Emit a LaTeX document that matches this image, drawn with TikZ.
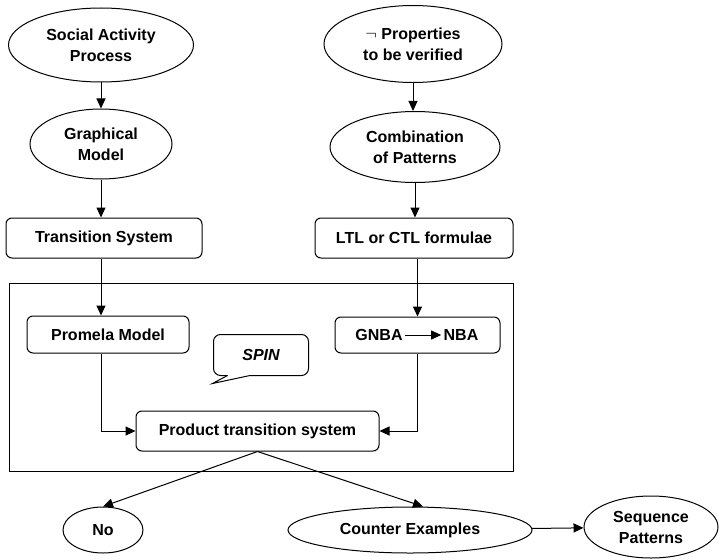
\documentclass[tikz,border=0pt]{standalone}
\usepackage{fontspec}
\setmainfont{Liberation Sans}
\usetikzlibrary{calc, positioning, arrows.meta, shapes.geometric}

\begin{document}
\begin{tikzpicture}[x=1pt, y=-1pt, line width=1pt,
    >={Triangle[length=10pt,width=9pt]},
    every node/.style={font=\bfseries\fontsize{16}{21}\selectfont, align=center},
    oval/.style={ellipse, draw, inner sep=0pt},
    box/.style={rectangle, draw, rounded corners=6pt, inner sep=0pt}]
    \useasboundingbox (0,0) rectangle (719,559);

    % Left column: model side
    \node[oval, minimum width=185pt, minimum height=74pt] (social) at (101,45) {Social Activity\\Process};
    \node[oval, minimum width=142pt, minimum height=70pt] (graph) at (101,144) {Graphical\\Model};
    \node[box, minimum width=196pt, minimum height=40pt] (ts) at (104,238) {Transition System};

    % Right column: property side
    \node[oval, minimum width=178pt, minimum height=77pt] (props) at (413,44) {{\mdseries$\neg$} Properties\\to be verified};
    \node[oval, minimum width=170pt, minimum height=71pt] (comb) at (415,147) {Combination\\of Patterns};
    \node[box, minimum width=198pt, minimum height=40pt] (ltl) at (414,238) {LTL or CTL formulae};

    % SPIN frame
    \draw (9,283) rectangle (513,471);
    \node[box, minimum width=162pt, minimum height=37pt] (promela) at (108,334.5) {Promela Model};
    \node[box, minimum width=165pt, minimum height=36pt] (gnba) at (417.5,335) {};
    \node[inner sep=2pt] (gn) at (379,335) {GNBA};
    \node[inner sep=2pt] (nb) at (461,335) {NBA};
    \node[box, minimum width=243pt, minimum height=40pt] (product) at (257.5,431) {Product transition system};

    % Speech bubble
    \node[font=\bfseries\itshape\fontsize{16}{21}\selectfont, minimum width=94pt, minimum height=40pt, inner sep=0pt] (spin) at (261,355) {SPIN};
    \draw[rounded corners=7pt] ($(spin.south)+(-11,0)$) -- (spin.south east) -- (spin.north east)
        -- (spin.north west) -- (spin.south west) -- ($(spin.south west)+(14,0)$);
    \draw ($(spin.south west)+(14,0)$) -- ($(spin.south west)+(-1,8)$) -- ($(spin.south)+(-11,0)$);

    % Results
    \node[oval, minimum width=80pt, minimum height=46pt] (no) at (103,530) {No};
    \node[oval, minimum width=244pt, minimum height=46pt] (counter) at (410,530) {Counter Examples};
    \node[oval, minimum width=134pt, minimum height=62pt] (seq) at (651,527) {Sequence\\Patterns};

    % Connectors
    \draw[->] (social) -- (graph);
    \draw[->] (graph) -- (graph |- ts.north);
    \draw[->] (ts.south -| graph) -- (graph |- promela.north);
    \draw[->] (props.south) -- (props.south |- comb.north);
    \draw[->] (comb) -- (comb |- ltl.north);
    \draw[->] (ltl.south -| gnba) -- (gnba);
    \draw[->] (gn) -- (nb);
    \draw[->] (promela.south -| graph) |- (product.west);
    \draw[->] (gnba) |- (product.east);
    \draw[->] (product.south) -- (no.north);
    \draw[->] (product.south) -- ($(counter.north)+(13,0)$);
    \draw[->] (counter) -- (seq);
\end{tikzpicture}
\end{document}
